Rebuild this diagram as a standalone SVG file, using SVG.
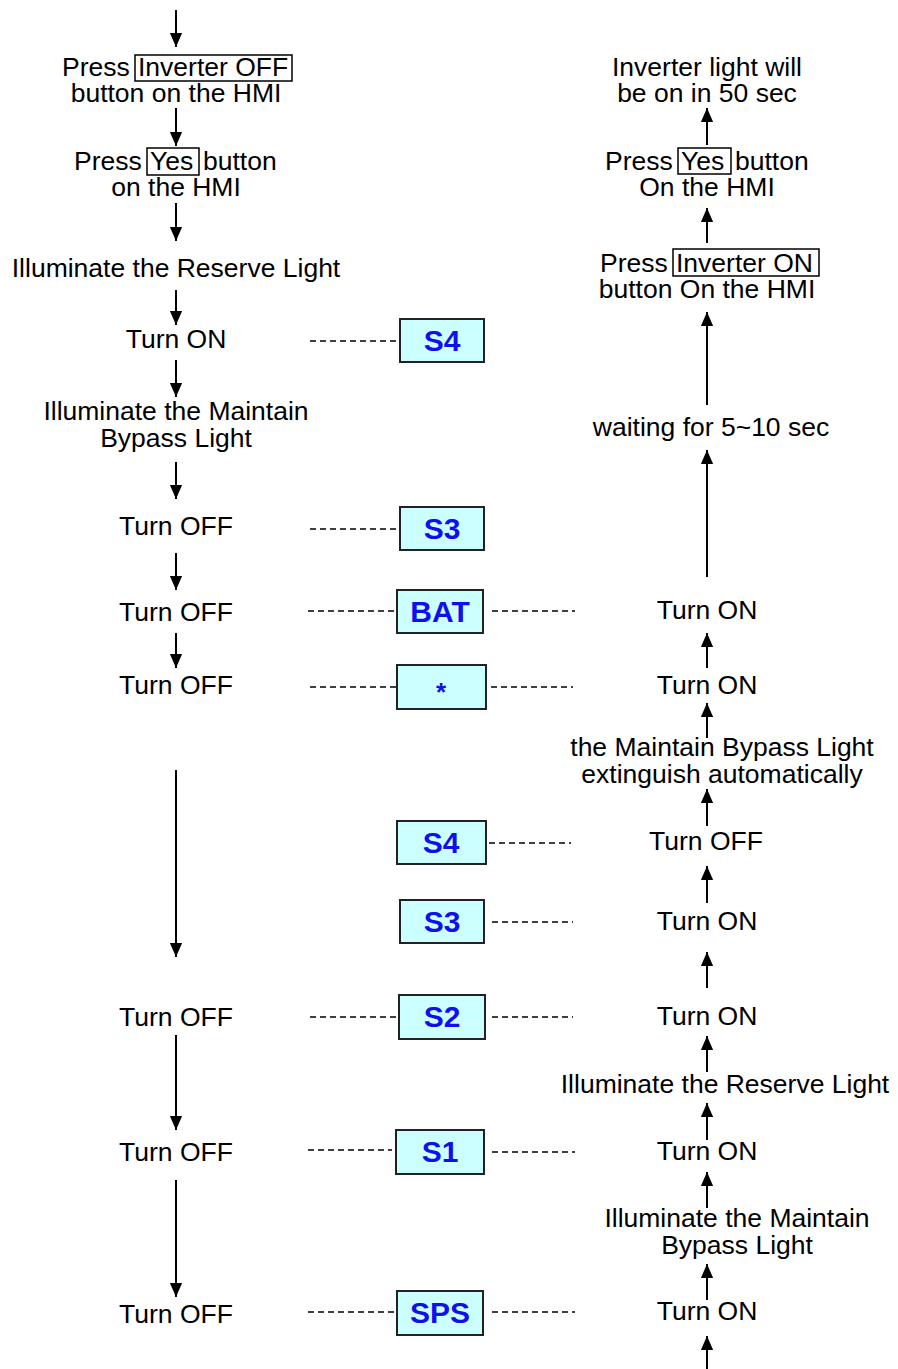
<svg xmlns="http://www.w3.org/2000/svg" width="898" height="1369" viewBox="0 0 898 1369">
<style>
.t{font-family:"Liberation Sans",Arial,sans-serif;font-size:26.5px;fill:#000;text-anchor:middle}
.ts{font-family:"Liberation Sans",Arial,sans-serif;font-size:26.5px;fill:#000}
.b{fill:#ccffff;stroke:#222;stroke-width:2}
.bl{font-family:"Liberation Sans",Arial,sans-serif;font-size:30px;font-weight:bold;fill:#1010ee;text-anchor:middle}
.hb{fill:none;stroke:#000;stroke-width:1.5}
.a{stroke:#000;stroke-width:2;fill:none;marker-end:url(#ah)}
.d{stroke:#000;stroke-width:1.6;stroke-dasharray:6,4;fill:none}
</style>
<defs>
<marker id="ah" markerUnits="userSpaceOnUse" markerWidth="14" markerHeight="18" refX="16" refY="7" orient="auto" viewBox="0 0 16 14">
<path d="M0,0 L16,7 L0,14 Z" fill="#000"/>
</marker>
</defs>
<g id="connectors">
<path class="a" d="M176,10 V47"/>
<path class="a" d="M176,108 V146"/>
<path class="a" d="M176,203 V241"/>
<path class="a" d="M176,290 V325"/>
<path class="a" d="M176,360 V397"/>
<path class="a" d="M176,462 V499"/>
<path class="a" d="M176,553 V590"/>
<path class="a" d="M176,633 V668"/>
<path class="a" d="M176,770 V957"/>
<path class="a" d="M176,1035 V1130"/>
<path class="a" d="M176,1180 V1297"/>
<path class="a" d="M707,145 V108"/>
<path class="a" d="M707,243 V208"/>
<path class="a" d="M707,405 V312"/>
<path class="a" d="M707,577 V450"/>
<path class="a" d="M707,668 V633"/>
<path class="a" d="M707,738 V703"/>
<path class="a" d="M707,826 V789"/>
<path class="a" d="M707,903 V866"/>
<path class="a" d="M707,988 V952"/>
<path class="a" d="M707,1072 V1036"/>
<path class="a" d="M707,1140 V1103"/>
<path class="a" d="M707,1208 V1172"/>
<path class="a" d="M707,1300 V1264"/>
<path class="a" d="M707,1369 V1336"/>
<path class="d" d="M310,341 H400"/>
<path class="d" d="M310,529 H400"/>
<path class="d" d="M308,611 H397 M492,611 H575"/>
<path class="d" d="M310,687 H397 M491,687 H573"/>
<path class="d" d="M489,843 H571"/>
<path class="d" d="M492,922 H573"/>
<path class="d" d="M310,1017 H399 M492,1017 H573"/>
<path class="d" d="M308,1150 H392 M492,1152 H575"/>
<path class="d" d="M308,1312 H397 M492,1312 H575"/>
</g>
<g id="l1"><text class="ts" x="62" y="76">Press</text><rect class="hb" x="135" y="55" width="157" height="26"/><text class="ts" x="138" y="76">Inverter OFF</text><text class="t" x="176" y="102">button on the HMI</text></g>
<g id="l2"><text class="ts" x="74" y="170">Press</text><rect class="hb" x="147" y="148" width="52" height="27"/><text class="ts" x="150" y="170">Yes</text><text class="ts" x="203" y="170">button</text><text class="t" x="176" y="196">on the HMI</text></g>
<g id="l3"><text class="t" x="176" y="277">Illuminate the Reserve Light</text></g>
<g id="l4"><text class="t" x="176" y="348">Turn ON</text></g>
<g id="l5"><text class="t" x="176" y="420">Illuminate the Maintain</text><text class="t" x="176" y="447">Bypass Light</text></g>
<g id="l6"><text class="t" x="176" y="535">Turn OFF</text></g>
<g id="l7"><text class="t" x="176" y="621">Turn OFF</text></g>
<g id="l8"><text class="t" x="176" y="694">Turn OFF</text></g>
<g id="l9"><text class="t" x="176" y="1026">Turn OFF</text></g>
<g id="l10"><text class="t" x="176" y="1161">Turn OFF</text></g>
<g id="l11"><text class="t" x="176" y="1323">Turn OFF</text></g>
<g id="bS4a"><rect class="b" x="400" y="319" width="84" height="43"/><text class="bl" x="442" y="351">S4</text></g>
<g id="bS3a"><rect class="b" x="400" y="507" width="84" height="43"/><text class="bl" x="442" y="539">S3</text></g>
<g id="bBAT"><rect class="b" x="397" y="590" width="86" height="43"/><text class="bl" x="440" y="622">BAT</text></g>
<g id="bStar"><rect class="b" x="397" y="665" width="89" height="44"/><text class="bl" x="441" y="701" style="font-size:26px">*</text></g>
<g id="bS4b"><rect class="b" x="397" y="821" width="89" height="43"/><text class="bl" x="441" y="853">S4</text></g>
<g id="bS3b"><rect class="b" x="400" y="900" width="84" height="43"/><text class="bl" x="442" y="932">S3</text></g>
<g id="bS2"><rect class="b" x="399" y="995" width="86" height="44"/><text class="bl" x="442" y="1027">S2</text></g>
<g id="bS1"><rect class="b" x="396" y="1130" width="88" height="44"/><text class="bl" x="440" y="1162">S1</text></g>
<g id="bSPS"><rect class="b" x="397" y="1291" width="86" height="44"/><text class="bl" x="440" y="1323">SPS</text></g>
<g id="r1"><text class="t" x="707" y="76">Inverter light will</text><text class="t" x="707" y="102">be on in 50 sec</text></g>
<g id="r2"><text class="ts" x="605" y="170">Press</text><rect class="hb" x="678" y="148" width="53" height="26"/><text class="ts" x="681" y="170">Yes</text><text class="ts" x="735" y="170">button</text><text class="t" x="707" y="196">On the HMI</text></g>
<g id="r3"><text class="ts" x="600" y="272">Press</text><rect class="hb" x="673" y="249" width="146" height="27"/><text class="ts" x="676" y="272">Inverter ON</text><text class="t" x="707" y="298">button On the HMI</text></g>
<g id="r4"><text class="t" x="711" y="436">waiting for 5~10 sec</text></g>
<g id="r5"><text class="t" x="707" y="619">Turn ON</text></g>
<g id="r6"><text class="t" x="707" y="694">Turn ON</text></g>
<g id="r7"><text class="t" x="722" y="756">the Maintain Bypass Light</text><text class="t" x="722" y="783">extinguish automatically</text></g>
<g id="r8"><text class="t" x="706" y="850">Turn OFF</text></g>
<g id="r9"><text class="t" x="707" y="930">Turn ON</text></g>
<g id="r10"><text class="t" x="707" y="1025">Turn ON</text></g>
<g id="r11"><text class="t" x="725" y="1093">Illuminate the Reserve Light</text></g>
<g id="r12"><text class="t" x="707" y="1160">Turn ON</text></g>
<g id="r13"><text class="t" x="737" y="1227">Illuminate the Maintain</text><text class="t" x="737" y="1254">Bypass Light</text></g>
<g id="r14"><text class="t" x="707" y="1320">Turn ON</text></g>
</svg>
